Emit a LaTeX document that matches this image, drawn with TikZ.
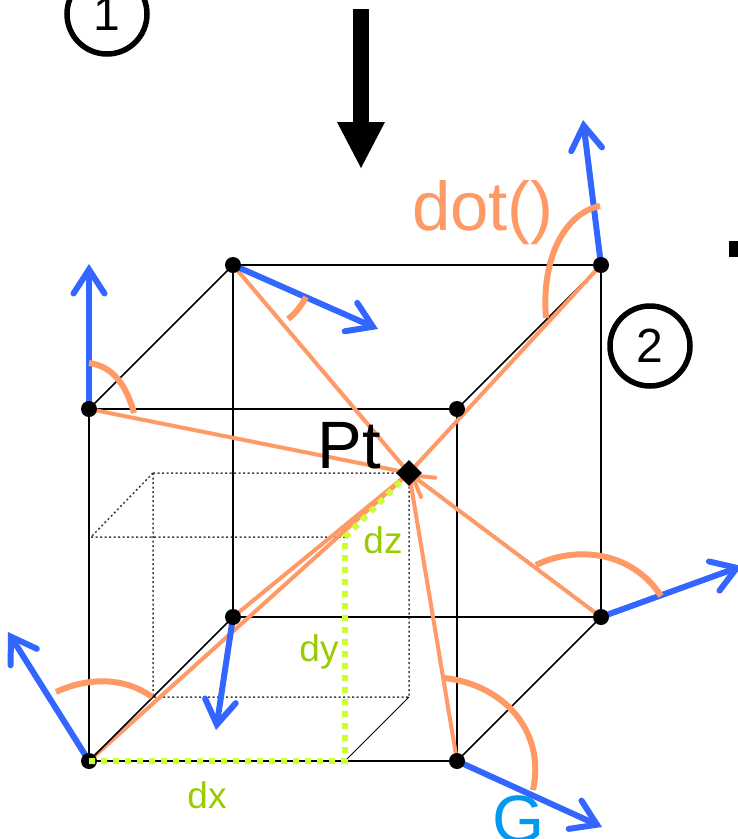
\documentclass[tikz,border=0pt]{standalone}
\usepackage{fontspec}
\setmainfont{Liberation Sans}
\usetikzlibrary{arrows.meta,shapes.geometric}
\definecolor{bluev}{HTML}{3366FF}
\definecolor{orangev}{HTML}{FF9966}
\definecolor{limev}{HTML}{CCFF33}
\definecolor{labelgreen}{HTML}{99CC00}
\definecolor{gblue}{HTML}{0099EE}
\tikzset{
  vertex/.style={circle,fill=black,inner sep=0pt,minimum size=16pt},
  edge/.style={black,line width=2.2pt},
  sideedge/.style={black,line width=1.7pt},
  hidden/.style={black!75,line width=1.5pt,dash pattern=on 2pt off 2.5pt},
  ray/.style={orangev,line width=4pt},
  gradarrow/.style={bluev,line width=6pt,line cap=round,-{Straight Barb[length=24pt,width=31pt,line width=6pt,line cap=round,line join=miter]}},
  anglearc/.style={orangev,line width=6pt},
  greendots/.style={limev,line width=6pt,dash pattern=on 6pt off 6pt},
  numcircle/.style={circle,draw=black,line width=5.5pt,minimum size=80pt,inner sep=0pt,font=\fontsize{48}{48}\selectfont},
  lbl/.style={inner sep=0pt,font=\fontsize{37}{37}\selectfont,text=labelgreen},
}
\begin{document}
\begin{tikzpicture}[x=1pt,y=-1pt]
\path[clip] (0,0) rectangle (738,839);
\fill[white] (0,0) rectangle (738,839);
% cube coordinates
\coordinate (fa) at (89,409);
\coordinate (fb) at (457,409);
\coordinate (fc) at (89,761);
\coordinate (fd) at (457,761);
\coordinate (ba) at (233,265);
\coordinate (bb) at (601,265);
\coordinate (bc) at (233,617);
\coordinate (bd) at (601,617);
\coordinate (pt) at (409,473);
% hidden inner box
\coordinate (ha) at (153,473);
\coordinate (hc) at (153,697);
\coordinate (hd) at (409,697);
\coordinate (ia) at (91,537);
\coordinate (ib) at (345,537);
\coordinate (id) at (345,761);
\draw[hidden] (ia) -- (ib) (ha) -- (pt) (ha) -- (hc) -- (hd) -- (pt) (ha) -- (ia);
\draw[black,line width=0.8pt] (hd) -- (id);
% cube edges
\draw[edge] (fa) -- (fb) -- (fd) -- (fc) -- cycle;
\draw[edge] (ba) -- (bb) -- (bd) -- (bc) -- cycle;
\draw[sideedge] (fa) -- (ba) (fb) -- (bb) (fd) -- (bd);
% rays to the point
\draw[ray] (fa) -- (pt);
\draw[ray] (ba) -- (pt);
\draw[ray] (bb) -- (pt);
\draw[ray] (bc) -- (pt);
\draw[ray] (fc) -- (pt);
\draw[ray] (fd) -- (pt);
\draw[ray,line cap=round,-{Straight Barb[length=20pt,width=24pt,line width=4pt,line cap=round,line join=miter]}] (bd) -- (pt);
% the edge lies over the lower-left ray
\draw[sideedge] (fc) -- (bc);
% gradient arrows
\coordinate (ga) at (89,264);
\coordinate (gb) at (378,329);
\coordinate (gc) at (583,120);
\coordinate (gd) at (742,566);
\coordinate (ge) at (602,827);
\coordinate (gf) at (216,730);
\coordinate (gg) at (8,632);
\draw[gradarrow] (fa) -- (ga);
\draw[gradarrow] (ba) -- (gb);
\draw[gradarrow] (bb) -- (gc);
\draw[gradarrow] (bd) -- (gd);
\draw[gradarrow] (fd) -- (ge);
\draw[gradarrow] (bc) -- (gf);
\draw[gradarrow] (fc) -- (gg);
% angle arcs
\draw[anglearc] (89,363) .. controls (112,366) and (126,384) .. (134,413);
\draw[anglearc] (306,297) .. controls (301,306) and (296,313) .. (288,319);
\draw[anglearc] (600,206) .. controls (565,213) and (541,258) .. (546,318);
\draw[anglearc] (536,565) .. controls (575,546) and (631,550) .. (661,596);
\draw[anglearc] (444,678) .. controls (502,684) and (546,730) .. (533,790);
\draw[anglearc] (56,692) .. controls (88,677) and (125,677) .. (152,697);
% vertices
\foreach \v in {fa,fb,fc,fd,ba,bb,bc,bd} \node[vertex] (n\v) at (\v) {};
% green dimension lines
\draw[greendots] (fc) -- (id) -- (ib) -- (pt);
% point marker
\node[diamond,fill=black,inner sep=0pt,minimum size=26pt] (ptmark) at (pt) {};
% labels
\node[inner sep=0pt,font=\fontsize{67}{67}\selectfont] (ptlabel) at (349,446) {Pt};
\node[inner sep=0pt,font=\fontsize{69}{69}\selectfont,text=orangev] (dotlabel) at (483,213) {dot()};
\node[inner sep=0pt,font=\fontsize{67}{67}\selectfont,text=gblue] (glabel) at (519,819) {G};
\node[lbl] (dx) at (207,795) {dx};
\node[lbl] (dy) at (319,652) {dy};
\node[lbl] (dz) at (383,540) {dz};
\node[numcircle] (c1) at (107,14) {1};
\node[numcircle] (c2) at (650,346) {2};
% big arrow
\fill[black] (353,9) rectangle (369,122);
\fill[black] (337,122) -- (385,122) -- (361,168) -- cycle;
% fragment at right edge
\fill[black] (729,241) rectangle (738,257);
\end{tikzpicture}
\end{document}
